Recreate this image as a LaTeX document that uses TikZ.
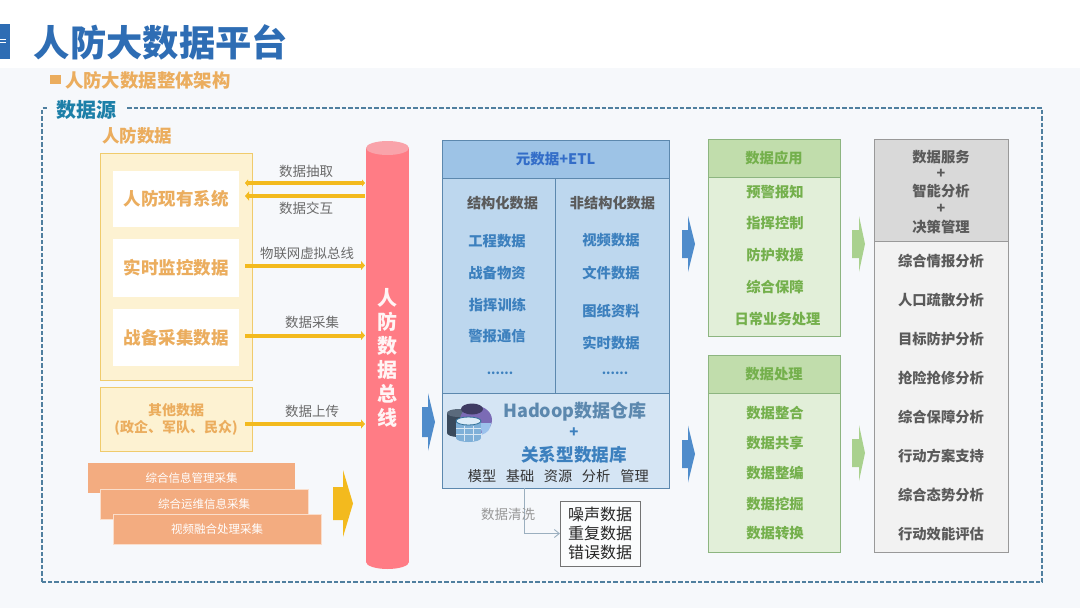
\documentclass[tikz,border=0pt]{standalone}
\usepackage{fontspec}
\setmainfont{Noto Sans CJK SC}
\usetikzlibrary{arrows.meta}
\definecolor{pagebg}{HTML}{F6F8FB}
\definecolor{titleblue}{HTML}{2E6DB4}
\definecolor{subor}{HTML}{EBAD5E}
\definecolor{dashc}{HTML}{4F7F9F}
\definecolor{srcblue}{HTML}{1C7FA8}
\definecolor{yelfill}{HTML}{FDF2D2}
\definecolor{yelline}{HTML}{F0CB6C}
\definecolor{arrowy}{HTML}{F3BA1E}
\definecolor{orbar}{HTML}{F3AC80}
\definecolor{busred}{HTML}{FF7C85}
\definecolor{bustop}{HTML}{F9A3AA}
\definecolor{blhead}{HTML}{9DC3E6}
\definecolor{blbody}{HTML}{BDD7EE}
\definecolor{bllow}{HTML}{D5E5F4}
\definecolor{blline}{HTML}{5C88AE}
\definecolor{bltext}{HTML}{3C80BE}
\definecolor{blarrow}{HTML}{4F8CCB}
\definecolor{grhead}{HTML}{C1DDAC}
\definecolor{grbody}{HTML}{E2EFD9}
\definecolor{grline}{HTML}{8DB580}
\definecolor{grtext}{HTML}{74B04C}
\definecolor{grarrow}{HTML}{A9D18E}
\definecolor{gyhead}{HTML}{D9D9D9}
\definecolor{gybody}{HTML}{F2F2F2}
\definecolor{gyline}{HTML}{999999}
\definecolor{gytext}{HTML}{5A5A5A}
\definecolor{lbl}{HTML}{6A6A6A}
\definecolor{dbdark}{HTML}{3A4A5C}
\definecolor{dbdarktop}{HTML}{5A6A7C}
\definecolor{dbpurple}{HTML}{7B6BB5}
\definecolor{dbplum}{HTML}{3F3B63}
\definecolor{dbsky}{HTML}{9CC2EC}
\definecolor{dbfront}{HTML}{7FB0D8}
\definecolor{dbfronttop}{HTML}{DCECF8}
\definecolor{dbedge}{HTML}{2F6F95}
\newcommand{\fs}[1]{\fontsize{#1}{#1}\selectfont}
\newcommand{\dn}[1]{\raisebox{-1.2pt}{#1}}
\tikzset{
  cell/.style={inner sep=0pt,outer sep=0pt,align=center},
  yelbox/.style={cell,fill=yelfill,draw=yelline,line width=0.8pt},
  whitebox/.style={cell,fill=white,text=subor,font=\fs{17.5}\bfseries},
  barbox/.style={cell,fill=orbar,text=white,font=\fs{11.5}},
  bluecell/.style={cell,draw=blline,line width=0.9pt},
  greencell/.style={cell,draw=grline,line width=0.9pt},
  graycell/.style={cell,draw=gyline,line width=0.9pt},
  bluetxt/.style={yshift=-0.5pt,text=bltext,font=\fs{14.3}\bfseries},
  greentxt/.style={yshift=-0.6pt,text=grtext,font=\fs{14.3}\bfseries},
  graytxt/.style={yshift=-0.6pt,text=gytext,font=\fs{14.3}\bfseries},
  headtxt/.style={yshift=-0.5pt,text=gytext,font=\fs{14.2}\bfseries},
  dotstxt/.style={text=bltext,font=\fs{12.5}\bfseries},
  lab/.style={text=lbl,font=\fs{13.5}},
  yarrow/.style={draw=arrowy,line width=4pt,-{Triangle[length=4pt,width=9pt]}},
  yarrowl/.style={draw=arrowy,line width=4pt,{Triangle[length=4pt,width=9pt]}-},
  yarrowb/.style={draw=arrowy,line width=4pt,{Triangle[length=3pt,width=7pt]}-{Triangle[length=3pt,width=7pt]}},
  frame/.style={dashc,line width=1.3pt,dash pattern=on 4.5pt off 2pt},
}
% name, x1, y1, x2, y2, style, text
\newcommand{\bx}[7]{\node[#6,minimum width={(#4-#2)*1pt},minimum height={(#5-#3)*1pt}] (#1) at ({(#2+#4)/2},{(#3+#5)/2}) {#7};}
% x0, xneck, xtip, ymid, half shaft, half head, colour
\newcommand{\blockarr}[7]{\fill[#7] (#1,{#4-#5}) -- (#2,{#4-#5}) -- (#2,{#4-#6}) -- (#3,#4) -- (#2,{#4+#6}) -- (#2,{#4+#5}) -- (#1,{#4+#5}) -- cycle;}
\begin{document}
\begin{tikzpicture}[x=1pt,y=-1pt]
\useasboundingbox (0,0) rectangle (1080,608);
\fill[white] (0,0) rectangle (1080,608);
\fill[pagebg] (0,68) rectangle (1080,608);
% title
\fill[titleblue] (0,24) rectangle (10,59);
\draw[white,line width=0.7pt] (0,39) -- (6,39) (0,42) -- (6,42);
\node[cell,anchor=west,text=titleblue,font=\fs{36.3}\bfseries] (title) at (34,42) {人防大数据平台};
\fill[subor] (50,75) rectangle (61,84);
\node[cell,anchor=west,text=subor,font=\fs{18.4}\bfseries] (sub) at (65,80) {人防大数据整体架构};
% outer dashed frame
\draw[frame] (42,582) -- (42,108) -- (49,108);
\draw[frame] (127,108) -- (1042,108) -- (1042,582) -- (42,582);
\node[cell,text=srcblue,font=\fs{20}\bfseries] (src) at (86.5,109.5) {数据源};
\node[cell,text=subor,font=\fs{17.5}\bfseries] (rf) at (137,136) {人防数据};
% left source boxes
\bx{outer}{100}{153}{252}{380}{yelbox}{}
\bx{sys}{113}{171}{239}{227}{whitebox}{\dn{人防现有系统}}
\bx{mon}{113}{239}{239}{297}{whitebox}{\dn{实时监控数据}}
\bx{war}{113}{309}{239}{366}{whitebox}{\dn{战备采集数据}}
\bx{oth}{100}{387}{252}{451}{yelbox,text=subor,font=\fs{14}\bfseries}{其他数据\\[3pt](政企、军队、民众)}
\bx{b1}{88}{463}{295}{493}{barbox}{综合信息管理采集}
\bx{b2}{100}{489}{308}{519}{barbox,draw=white!60!orbar,line width=0.6pt}{综合运维信息采集}
\bx{b3}{113}{514}{321}{544}{barbox,draw=white!60!orbar,line width=0.6pt}{视频融合处理采集}
\blockarr{333}{343}{353}{503.5}{16.5}{33.5}{arrowy}
% bus
\fill[busred] (366,148) rectangle (409,562);
\fill[busred] (387.5,562) ellipse[x radius=21.5,y radius=7];
\fill[bustop] (387.5,148) ellipse[x radius=21.5,y radius=7];
\node[cell,minimum width=43pt,minimum height=428pt] (bus) at (387.5,355) {};
\node[cell,text=white!92!busred,font=\fs{20}\bfseries,align=center] (bust) at (387.5,358) {人\\[4pt]防\\[4pt]数\\[4pt]据\\[4pt]总\\[4pt]线};
% yellow connectors
\coordinate (sysA) at (245,183); \coordinate (busA) at (365,183);
\coordinate (sysB) at (245,196); \coordinate (busB) at (365,196);
\coordinate (monA) at (245,265.5); \coordinate (busC) at (365,265.5);
\coordinate (warA) at (245,335.5); \coordinate (busD) at (365,335.5);
\coordinate (othA) at (245,424); \coordinate (busE) at (365,424);
\draw[yarrowb] (sysA) -- (busA);
\draw[yarrowl] (sysB) -- (busB);
\draw[yarrow] (monA) -- (busC);
\draw[yarrow] (warA) -- (busD);
\draw[yarrow] (othA) -- (busE);
\node[lab] (l1) at (306,171) {数据抽取};
\node[lab] (l2) at (306,208) {数据交互};
\node[lab,font=\fs{13.4}] (l3) at (307,253) {物联网虚拟总线};
\node[lab] (l4) at (312,322) {数据采集};
\node[lab] (l5) at (312,411) {数据上传};
% blue block arrows
\blockarr{422}{428}{435}{422}{15}{29}{blarrow}
\blockarr{682}{688}{695}{244}{14}{28}{blarrow}
\blockarr{682}{688}{695}{454}{14}{28.5}{blarrow}
% green block arrows
\blockarr{852}{859}{865}{244}{14}{28}{grarrow}
\blockarr{852}{859}{865}{453}{14}{28}{grarrow}
% main blue block
\bx{etl}{442}{140}{669}{178}{bluecell,fill=blhead,text=bltext!85!blue,font=\fs{14.5}\bfseries}{元数据+ETL}
\bx{st}{442}{178}{555.5}{393}{bluecell,fill=blbody}{}
\bx{un}{555.5}{178}{669}{393}{bluecell,fill=blbody}{}
\bx{wh}{442}{393}{669}{488}{bluecell,fill=bllow}{}
\node[headtxt] at (502.5,203) {结构化数据};
\node[headtxt] at (612.5,203) {非结构化数据};
\node[bluetxt] at (497,241) {工程数据};
\node[bluetxt] at (497,273) {战备物资};
\node[bluetxt] at (497.5,304) {指挥训练};
\node[bluetxt] at (497,336) {警报通信};
\node[dotstxt] at (500,373) {......};
\node[bluetxt] at (611,240) {视频数据};
\node[bluetxt] at (611,273) {文件数据};
\node[bluetxt] at (611,311) {图纸资料};
\node[bluetxt] at (611,342) {实时数据};
\node[dotstxt] at (615,373) {......};
\node[text=blline,font=\fs{18}\bfseries] at (575,412) {Hadoop数据仓库};
\node[text=bltext,font=\fs{15}\bfseries] at (574,433) {+};
\node[text=bltext,font=\fs{17.6}\bfseries] at (574,455) {关系型数据库};
\foreach \t/\x in {模型/482,基础/520,资源/558,分析/596,管理/634.5}
  \node[text=black!80,font=\fs{14.2}] at (\x,476) {\t};
% database icon
\fill[dbdark] (447,413) rectangle (470,433);
\fill[dbdark] (458.5,433) ellipse[x radius=11.5,y radius=4];
\fill[dbdarktop] (458.5,413) ellipse[x radius=11.5,y radius=4];
\fill[dbpurple] (476,420) ellipse[x radius=16,y radius=14];
\fill[dbplum] (472,409) ellipse[x radius=11,y radius=5.5];
\fill[dbsky] (480,423) -- (491,423) arc[start angle=0,end angle=75,radius=12] -- cycle;
\fill[dbfront] (456,421) rectangle (481,438);
\fill[dbfront] (468.5,438) ellipse[x radius=12.5,y radius=4];
\draw[white!70!dbfront,line width=0.6pt] (456,428) -- (481,428) (456,434) -- (481,434) (464.5,426) -- (464.5,441) (473,426) -- (473,441);
\fill[dbfronttop,draw=dbedge,line width=0.8pt] (468.5,421) ellipse[x radius=12.5,y radius=4];
% noise box
\node[cell,draw=black!55,fill=white!60!pagebg,line width=0.8pt,minimum width=80pt,minimum height=65pt,text=black!85,font=\fs{16},align=center] (noise) at (600,533.5) {噪声数据\\[3pt]重复数据\\[3pt]错误数据};
\coordinate (clean) at (524.5,488);
\draw[draw=black!20!blline!55!white,line width=0.9pt,-{Straight Barb[length=5pt,width=8pt]}] (clean) |- (noise.west);
\node[lab,text=lbl!70!white] (l6) at (508,514) {数据清洗};
% green boxes
\bx{ga}{708}{139}{840}{177}{greencell,fill=grhead,text=grtext,font=\fs{14.3}\bfseries}{\dn{数据应用}}
\bx{gab}{708}{177}{840}{336}{greencell,fill=grbody}{}
\foreach \t/\y in {预警报知/191,指挥控制/222,防护救援/254,综合保障/286}
  \node[greentxt] at (775,\y) {\t};
\node[greentxt] at (777.5,318) {日常业务处理};
\bx{gp}{708}{355}{840}{393}{greencell,fill=grhead,text=grtext,font=\fs{14.3}\bfseries}{\dn{数据处理}}
\bx{gpb}{708}{393}{840}{552}{greencell,fill=grbody}{}
\foreach \t/\y in {数据整合/412,数据共享/442,数据整编/472,数据挖掘/503,数据转换/533}
  \node[greentxt] at (775,\y) {\t};
% grey block
\bx{gs}{874}{139}{1008}{241}{graycell,fill=gyhead}{}
\bx{gsb}{874}{241}{1008}{552}{graycell,fill=gybody}{}
\foreach \t/\y in {数据服务/156,+/173,智能分析/190,+/208,决策管理/226}
  \node[graytxt] at (941,\y) {\t};
\foreach \t/\y in {综合情报分析/260,人口疏散分析/299,目标防护分析/338,抢险抢修分析/377,综合保障分析/416,行动方案支持/455,综合态势分析/494,行动效能评估/533}
  \node[graytxt] at (941,\y) {\t};
\end{tikzpicture}
\end{document}
